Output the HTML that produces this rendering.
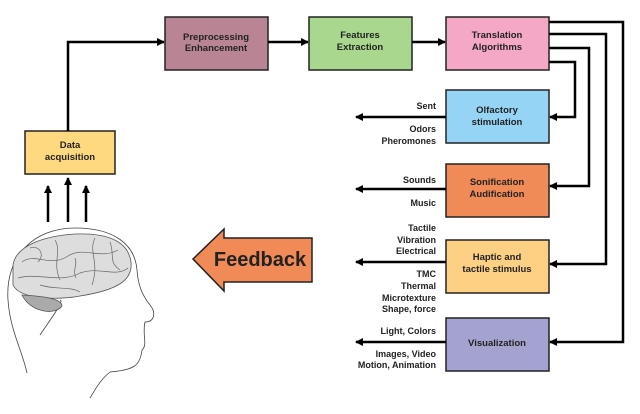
<!DOCTYPE html>
<html><head><meta charset="utf-8"><style>
body{margin:0;background:#fff}
svg text{font-family:"Liberation Sans",sans-serif;font-weight:bold;fill:#222}
</style></head><body>
<svg width="640" height="409" viewBox="0 0 640 409" xmlns="http://www.w3.org/2000/svg">
<defs><marker id="a" markerWidth="8" markerHeight="8" refX="7" refY="4" orient="auto" markerUnits="userSpaceOnUse"><path d="M0,0 L8,4 L0,8Z" fill="#000"/></marker></defs>
<g stroke="#222" stroke-width="1.5">
<rect x="165" y="17" width="103" height="53" fill="#b98595"/>
<rect x="309" y="17" width="103" height="53" fill="#a9d78d"/>
<rect x="446" y="17" width="103" height="53" fill="#f5a8c6"/>
<rect x="446" y="90" width="103" height="53" fill="#96d4f6"/>
<rect x="446" y="164" width="103" height="53" fill="#f08a56"/>
<rect x="446" y="240" width="103" height="53" fill="#fdd083"/>
<rect x="446" y="318" width="103" height="53" fill="#a4a2cf"/>
<rect x="25" y="131" width="90" height="43" fill="#fed97f"/>
</g>
<g stroke="#000" stroke-width="2.5" fill="none">
<path d="M68,131 V42 H164" marker-end="url(#a)"/>
<path d="M268,42 H308" marker-end="url(#a)"/>
<path d="M412,42 H445" marker-end="url(#a)"/>
<path d="M549,22 H623 V342 H550" marker-end="url(#a)"/>
<path d="M549,34 H606 V264 H550" marker-end="url(#a)"/>
<path d="M549,48 H589 V186 H550" marker-end="url(#a)"/>
<path d="M549,62 H575 V117 H550" marker-end="url(#a)"/>
<path d="M446,117 H356" marker-end="url(#a)"/>
<path d="M446,189 H356" marker-end="url(#a)"/>
<path d="M446,262 H356" marker-end="url(#a)"/>
<path d="M446,342 H356" marker-end="url(#a)"/>
<path d="M48,222 V186" marker-end="url(#a)"/>
<path d="M68,222 V178" marker-end="url(#a)"/>
<path d="M86,222 V186" marker-end="url(#a)"/>
</g>
<path d="M193,259 L224,229 V238 H312 V282 H224 V291 Z" fill="#f08a56" stroke="#222" stroke-width="1.5"/>
<text x="260" y="266" font-size="20" text-anchor="middle" fill="#111">Feedback</text>
<g font-size="9.5" text-anchor="middle">
<text x="216" y="40">Preprocessing</text><text x="216" y="51">Enhancement</text>
<text x="360" y="38">Features</text><text x="360" y="50">Extraction</text>
<text x="497" y="38">Translation</text><text x="497" y="50">Algorithms</text>
<text x="497" y="113">Olfactory</text><text x="497" y="125">stimulation</text>
<text x="497" y="185">Sonification</text><text x="497" y="197">Audification</text>
<text x="497" y="260">Haptic and</text><text x="497" y="272">tactile stimulus</text>
<text x="497" y="346">Visualization</text>
<text x="70" y="148">Data</text><text x="70" y="160">acquisition</text>
</g>
<g font-size="9" text-anchor="end">
<text x="436" y="109">Sent</text><text x="436" y="132">Odors</text><text x="436" y="144">Pheromones</text>
<text x="436" y="183">Sounds</text><text x="436" y="206">Music</text>
<text x="436" y="231">Tactile</text><text x="436" y="243">Vibration</text><text x="436" y="254">Electrical</text>
<text x="436" y="277">TMC</text><text x="436" y="289">Thermal</text><text x="436" y="301">Microtexture</text><text x="436" y="312">Shape, force</text>
<text x="436" y="334">Light, Colors</text><text x="436" y="357">Images, Video</text><text x="436" y="368">Motion, Animation</text>
</g>
<g fill="none" stroke="#444" stroke-width="0.8">
<path d="M27,373 C22,350 10,330 8,300 C5,255 35,228 75,228 C115,228 135,245 137,270 C138,285 142,295 150,305 C156,312 155,322 145,322 C142,335 148,345 142,350 C140,365 135,370 110,372 C100,380 95,390 90,398"/>
<path d="M40,335 C50,320 65,300 60,300"/>
</g>
<path d="M13,265 C16,245 45,236 75,234 C105,233 128,240 131,262 C133,280 118,290 80,296 C60,300 20,300 13,285 Z" fill="#ddd" stroke="#555" stroke-width="0.8"/>
<path d="M22,295 C30,312 55,316 62,306 C62,298 40,296 22,295Z" fill="#aaa" stroke="#555" stroke-width="0.8"/>
<g fill="none" stroke="#666" stroke-width="0.7">
<path d="M22,262 C35,252 50,268 68,256 C84,246 100,260 118,250"/>
<path d="M18,278 C38,272 60,284 80,273 C100,266 115,278 128,268"/>
<path d="M55,240 C62,252 52,262 60,280"/><path d="M95,238 C88,252 100,262 92,285"/>
<path d="M30,248 C40,245 45,255 38,262"/><path d="M110,242 C115,255 108,262 120,270"/>
<path d="M75,258 C78,265 72,270 76,278"/><path d="M40,285 C55,290 70,286 80,292"/>
</g>
</svg>
</body></html>
